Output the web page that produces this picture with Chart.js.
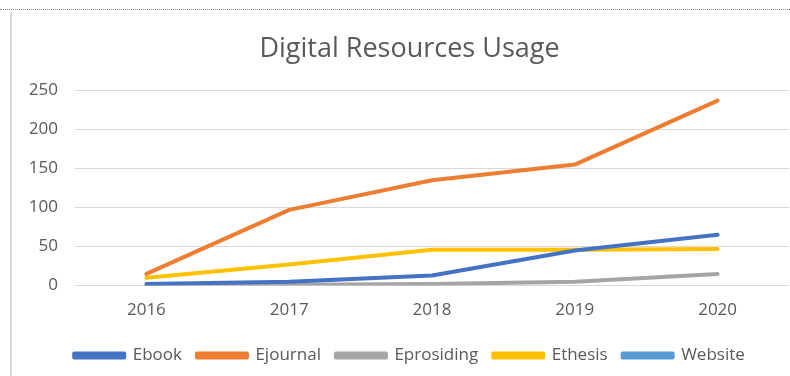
<!DOCTYPE html>
<html>
<head>
<meta charset="utf-8">
<script src="https://cdn.jsdelivr.net/npm/chart.js@4"></script>
<style>
  html, body { margin: 0; padding: 0; background: #fff; }
  #wrap { position: absolute; left: 0; top: 0; width: 790px; height: 376px; }
  #topline { position: absolute; left: 0; top: 9px; width: 790px; border-top: 1px dotted #8c8c8c; }
  #box { position: absolute; left: 10px; top: 12px; width: 780px; height: 364px; border-left: 2px solid #d9d9d9; }
</style>
</head>
<body>
<div id="wrap">
  <div id="topline"></div>
  <div id="box"><canvas id="myChart" width="778" height="364"></canvas></div>
</div>
<script>
// chart data
var years = ['2016', '2017', '2018', '2019', '2020'];
var ebook = [2, 5, 13, 45, 65];
var ejournal = [15, 97, 135, 155, 237];
var eprosiding = [0, 1, 2, 5, 15];
var ethesis = [10, 27, 46, 46, 47];
var website = [null, null, null, null, null];
var yTicks = [0, 50, 100, 150, 200, 250];

var textColor = '#595959';
var fontName = "'Open Sans', sans-serif";

var ctx = document.getElementById('myChart').getContext('2d');

var myChart = new Chart(ctx, {
  type: 'line',
  data: {
    labels: years,
    datasets: [
      { label: 'Ebook', data: ebook, borderColor: '#4472C4', backgroundColor: '#4472C4' },
      { label: 'Ejournal', data: ejournal, borderColor: '#ED7D31', backgroundColor: '#ED7D31' },
      { label: 'Eprosiding', data: eprosiding, borderColor: '#A5A5A5', backgroundColor: '#A5A5A5' },
      { label: 'Ethesis', data: ethesis, borderColor: '#FFC000', backgroundColor: '#FFC000' },
      { label: 'Website', data: website, borderColor: '#5B9BD5', backgroundColor: '#5B9BD5' }
    ]
  },
  options: {
    responsive: false,
    animation: false,
    elements: {
      line: { borderWidth: 4, tension: 0, borderCapStyle: 'round', borderJoinStyle: 'round' },
      point: { radius: 0 }
    },
    // extra left padding pushes title + legend a bit right, like the original
    layout: { padding: { left: 18, right: 1, top: 0, bottom: 2 } },
    plugins: {
      title: {
        display: true,
        text: 'Digital Resources Usage',
        color: textColor,
        font: { family: fontName, size: 27, weight: 'normal' },
        padding: { top: 21, bottom: 25 }
      },
      legend: {
        position: 'bottom',
        labels: {
          color: textColor,
          font: { family: fontName, size: 17 },
          boxWidth: 50,
          boxHeight: 4,
          padding: 15
        }
      },
      tooltip: { enabled: false }
    },
    scales: {
      x: {
        offset: true,
        afterFit: function (scale) { scale.height += 6; },
        grid: { display: false },
        border: { display: false },
        ticks: { color: textColor, font: { family: fontName, size: 17 }, padding: 6 }
      },
      y: {
        min: 0,
        max: 250,
        afterBuildTicks: function (scale) {
          scale.ticks = yTicks.map(function (v) { return { value: v }; });
        },
        afterFit: function (scale) { scale.width = 45; },
        grid: { color: '#d9d9d9', lineWidth: 1, drawTicks: false },
        border: { display: false },
        ticks: { color: textColor, font: { family: fontName, size: 17 }, padding: 17 }
      }
    }
  }
});
</script>
</body>
</html>
